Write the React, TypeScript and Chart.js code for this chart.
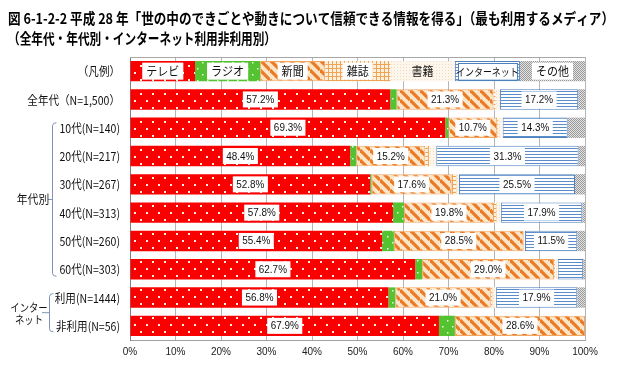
import React, { useEffect, useRef } from 'react';
import { Chart, registerables } from 'chart.js';
Chart.register(...registerables);

const titleLines = [
  '図 6-1-2-2 平成 28 年「世の中のできごとや動きについて信頼できる情報を得る」（最も利用するメディア）',
  '（全年代・年代別・インターネット利用非利用別）',
];
const categories = [
  '（凡例）',
  '全年代（N=1,500）',
  '10代(N=140)',
  '20代(N=217)',
  '30代(N=267)',
  '40代(N=313)',
  '50代(N=260)',
  '60代(N=303)',
  '利用(N=1444)',
  '非利用(N=56)',
];
const mediaNames = ['テレビ', 'ラジオ', '新聞', '雑誌', '書籍', 'インターネット', 'その他'];
// widths of the legend row (first row of the chart)
const legendRowShare = [14.3, 14.3, 14.3, 14.3, 14.2, 14.3, 14.3];
// series values for the 9 data rows (全年代 … 非利用)
const tv = [57.2, 69.3, 48.4, 52.8, 57.8, 55.4, 62.7, 56.8, 67.9];
const radio = [1.4, 0.7, 1.3, 0.3, 2.4, 2.6, 1.5, 1.5, 3.5];
const newspaper = [21.3, 10.7, 15.2, 17.6, 19.8, 28.5, 29.0, 21.0, 28.6];
const magazine = [0.4, 0.2, 0.8, 1.0, 0.5, 0.1, 0.2, 0.3, 0];
const books = [1.0, 1.0, 1.6, 0.6, 1.0, 0.2, 0.6, 0.8, 0];
const internet = [17.2, 14.3, 31.3, 25.5, 17.9, 11.5, 5.6, 17.9, 0];
const other = [1.5, 3.8, 1.4, 2.2, 0.6, 1.7, 0.4, 1.7, 0];
const series = [tv, radio, newspaper, magazine, books, internet, other];
const labelledSeries = [0, 2, 5];
const labelMin = 10;
const groupLabels = ['年代別', 'インター', 'ネット'];

function makePattern(w: number, h: number, draw: (c: CanvasRenderingContext2D) => void) {
  const cv = document.createElement('canvas');
  cv.width = w;
  cv.height = h;
  const c = cv.getContext('2d')!;
  draw(c);
  return c.createPattern(cv, 'repeat')!;
}

function buildPatterns() {
  const tvP = makePattern(12, 14, (c) => {
    c.fillStyle = '#fa0000';
    c.fillRect(0, 0, 12, 14);
    c.fillStyle = '#ffeaea';
    c.fillRect(2, 2, 2, 2);
    c.fillRect(8, 9, 2, 2);
  });
  const radioP = makePattern(10, 12, (c) => {
    c.fillStyle = '#55c232';
    c.fillRect(0, 0, 10, 12);
    c.fillStyle = '#e8f8e0';
    c.fillRect(2, 2, 1.5, 1.5);
    c.fillRect(7, 8, 1.5, 1.5);
  });
  const newsP = makePattern(10, 10, (c) => {
    c.fillStyle = '#fde6c8';
    c.fillRect(0, 0, 10, 10);
    c.strokeStyle = '#ea7a26';
    c.lineWidth = 3.2;
    for (const k of [-10, 0, 10]) {
      c.beginPath();
      c.moveTo(0, k);
      c.lineTo(10, 10 + k);
      c.stroke();
    }
  });
  const magP = makePattern(4, 4, (c) => {
    c.fillStyle = '#fdf0dc';
    c.fillRect(0, 0, 4, 4);
    c.fillStyle = '#f0a458';
    c.fillRect(0, 0, 1, 4);
    c.fillRect(0, 0, 4, 1);
  });
  const booksP = makePattern(3, 3, (c) => {
    c.fillStyle = '#fdf6ec';
    c.fillRect(0, 0, 3, 3);
    c.fillStyle = '#f5dcc0';
    c.fillRect(1, 1, 1, 1);
  });
  const netP = makePattern(3, 3, (c) => {
    c.fillStyle = '#ffffff';
    c.fillRect(0, 0, 3, 3);
    c.fillStyle = '#5b8dcb';
    c.fillRect(0, 1, 3, 1);
  });
  const otherP = makePattern(2, 2, (c) => {
    c.fillStyle = '#e2e2e2';
    c.fillRect(0, 0, 2, 2);
    c.fillStyle = '#9a9a9a';
    c.fillRect(0, 0, 1, 1);
    c.fillRect(1, 1, 1, 1);
  });
  return [tvP, radioP, newsP, magP, booksP, netP, otherP];
}

const borderColors = ['#ff0000', '#4fc02f', '#f3a45e', '#f3a45e', '#f3c89a', '#4f81bd', '#aaaaaa'];
const borderWidths = [0, 0, 1, 0, 0, 1, 0];

function condText(ctx: CanvasRenderingContext2D, text: string, x: number, y: number, sx: number, align: CanvasTextAlign) {
  ctx.save();
  ctx.translate(x, y);
  ctx.scale(sx, 1);
  ctx.textAlign = align;
  ctx.fillText(text, 0, 0);
  ctx.restore();
}

const overlayPlugin = {
  id: 'overlay',
  afterDatasetsDraw(chart: any) {
    const ctx: CanvasRenderingContext2D = chart.ctx;
    ctx.save();
    ctx.textBaseline = 'middle';
    // legend row labels
    for (let d = 0; d < mediaNames.length; d++) {
      const el = chart.getDatasetMeta(d).data[0];
      const cx = (el.x + el.base) / 2;
      const cy = el.y;
      const isNet = d === 5;
      ctx.font = isNet ? '10.5px "Noto Sans CJK JP"' : '12px "Noto Sans CJK JP"';
      const sx = isNet ? 0.85 : 0.92;
      const tw = ctx.measureText(mediaNames[d]).width * sx;
      const bw = isNet ? Math.abs(el.x - el.base) - 6 : tw + 8;
      const bh = 17;
      if (d !== 4) {
        ctx.fillStyle = '#ffffff';
        ctx.fillRect(cx - bw / 2, cy - bh / 2, bw, bh);
        if (isNet) {
          ctx.strokeStyle = '#4f81bd';
          ctx.lineWidth = 1;
          ctx.strokeRect(Math.round(cx - bw / 2) + 0.5, Math.round(cy - bh / 2) + 0.5, Math.round(bw), bh);
        }
      }
      ctx.fillStyle = '#111';
      condText(ctx, mediaNames[d], cx, cy + 0.5, sx, 'center');
    }
    // value labels
    ctx.font = '11px "Liberation Sans"';
    for (const d of labelledSeries) {
      const meta = chart.getDatasetMeta(d);
      for (let i = 1; i < categories.length; i++) {
        const v = series[d][i - 1];
        if (v < labelMin) continue;
        const el = meta.data[i];
        const cx = (el.x + el.base) / 2;
        const cy = el.y;
        const text = v.toFixed(1) + '%';
        const sx = 0.9;
        const tw = ctx.measureText(text).width * sx;
        const bw = tw + 7;
        const bh = 16;
        ctx.fillStyle = '#ffffff';
        ctx.fillRect(cx - bw / 2, cy - bh / 2, bw, bh);
        ctx.fillStyle = '#111';
        condText(ctx, text, cx, cy + 0.5, sx, 'center');
      }
    }
    ctx.restore();
  },
  afterDraw(chart: any) {
    const ctx: CanvasRenderingContext2D = chart.ctx;
    const { left, right, top } = chart.chartArea;
    const ys = chart.scales.y;
    ctx.save();
    // top border of plot
    ctx.strokeStyle = '#a8a8a8';
    ctx.lineWidth = 1;
    ctx.beginPath();
    ctx.moveTo(left, top + 0.5);
    ctx.lineTo(right, top + 0.5);
    ctx.stroke();
    // title
    ctx.fillStyle = '#000';
    ctx.textBaseline = 'middle';
    ctx.textAlign = 'left';
    ctx.font = 'bold 15px "Noto Sans CJK JP"';
    ctx.fillText(titleLines[0], 8, 18, 606);
    ctx.fillText(titleLines[1], 8, 38, 268);
    // category labels
    ctx.font = '12px "Noto Sans CJK JP"';
    ctx.fillStyle = '#111';
    categories.forEach((c, i) => {
      condText(ctx, c, 120, ys.getPixelForValue(i) + 0.5, 0.88, 'right');
    });
    // group brackets
    ctx.strokeStyle = '#7f93b8';
    ctx.lineWidth = 1;
    const drawBracket = (x: number, y0: number, y1: number, tickLeft: number) => {
      const mid = (y0 + y1) / 2;
      ctx.beginPath();
      ctx.moveTo(x + 4, y0);
      ctx.quadraticCurveTo(x, y0, x, y0 + 3);
      ctx.lineTo(x, y1 - 3);
      ctx.quadraticCurveTo(x, y1, x + 4, y1);
      ctx.moveTo(tickLeft, mid);
      ctx.lineTo(x, mid);
      ctx.stroke();
      return mid;
    };
    const g1 = drawBracket(52.5, ys.getPixelForValue(2) - 5, ys.getPixelForValue(7) + 7, 48);
    const g2 = drawBracket(49.5, ys.getPixelForValue(8) - 4, ys.getPixelForValue(9) + 6, 42);
    ctx.fillStyle = '#111';
    ctx.font = '12px "Noto Sans CJK JP"';
    condText(ctx, groupLabels[0], 33, g1, 0.9, 'center');
    ctx.font = '11px "Noto Sans CJK JP"';
    condText(ctx, groupLabels[1], 29, g2 - 5, 0.85, 'center');
    condText(ctx, groupLabels[2], 29, g2 + 7, 0.85, 'center');
    ctx.restore();
  },
};

export default function App() {
  const ref = useRef<HTMLCanvasElement>(null);
  useEffect(() => {
    const patterns = buildPatterns();
    const datasets = mediaNames.map((name, k) => ({
      label: name,
      data: [legendRowShare[k], ...series[k]],
      backgroundColor: patterns[k],
      borderColor: borderColors[k],
      borderWidth: (c: any) => (c.raw > 0 ? borderWidths[k] : 0),
      borderSkipped: false,
      barPercentage: 0.72,
      categoryPercentage: 1,
    }));
    const chart = new Chart(ref.current!, {
      type: 'bar',
      data: { labels: categories, datasets },
      options: {
        indexAxis: 'y',
        responsive: false,
        animation: false,
        devicePixelRatio: 1,
        layout: { padding: { top: 57, right: 35, left: 0, bottom: 0 } },
        plugins: { legend: { display: false }, tooltip: { enabled: false }, title: { display: false } },
        scales: {
          x: {
            stacked: true,
            min: 0,
            max: 100,
            ticks: {
              stepSize: 10,
              callback: (v: any) => v + '%',
              font: { size: 10, family: '"Liberation Sans Narrow", "Liberation Sans"' },
              color: '#222',
              padding: 6,
              maxRotation: 0,
              autoSkip: false,
            },
            grid: { color: '#b5b5b5', drawTicks: false },
            border: { display: true, color: '#a0a0a0' },
            afterFit: (s: any) => {
              s.height = 29;
            },
          },
          y: {
            stacked: true,
            ticks: { display: false },
            grid: { display: false, drawTicks: false },
            border: { display: true, color: '#808080' },
            afterFit: (s: any) => {
              s.width = 130;
            },
          },
        },
      },
      plugins: [overlayPlugin],
    } as any);
    return () => chart.destroy();
  }, []);
  return (
    <div style={{ position: 'fixed', left: 0, top: 0, width: 620, height: 369, background: '#fff' }}>
      <canvas ref={ref} width={620} height={369} style={{ width: 620, height: 369, display: 'block' }} />
    </div>
  );
}
